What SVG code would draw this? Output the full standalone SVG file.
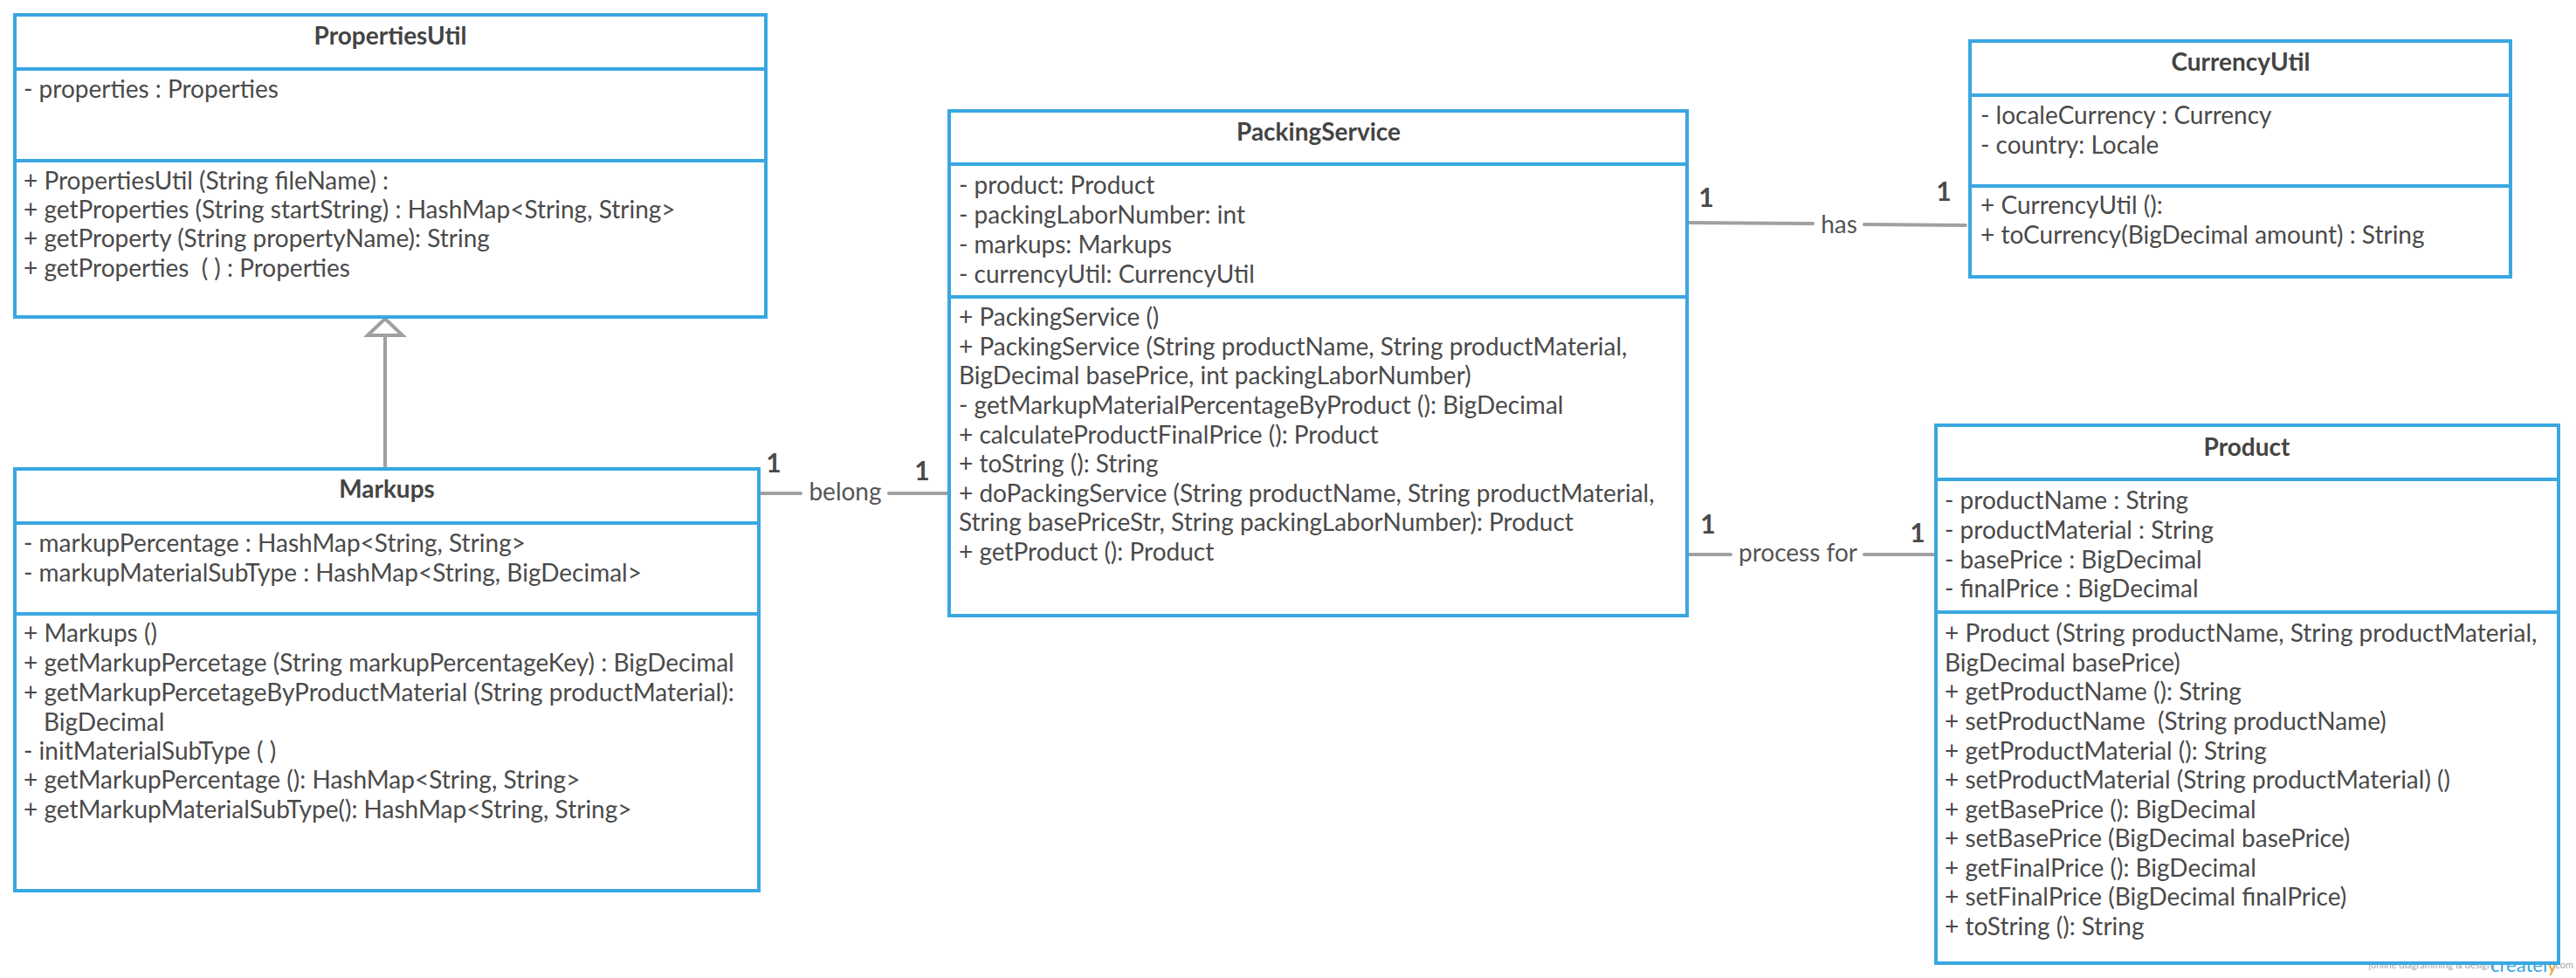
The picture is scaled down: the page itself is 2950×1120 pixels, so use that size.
<svg xmlns="http://www.w3.org/2000/svg" width="2950" height="1120" viewBox="0 0 2950 1120">
<style>
.box{fill:#ffffff;stroke:#39a7e1;stroke-width:4}
.div{stroke:#39a7e1;stroke-width:4}
.title{font-family:Lato,"Liberation Sans",sans-serif;font-size:28px;font-weight:bold;fill:#444444;text-anchor:middle}
.t{font-family:Lato,"Liberation Sans",sans-serif;font-size:28px;fill:#4a4a4a}
.con{stroke:#a0a0a0;stroke-width:4;fill:none;stroke-linecap:round}
.lbl{font-family:Lato,"Liberation Sans",sans-serif;font-size:28px;fill:#555555;text-anchor:middle}
.mul{font-family:Lato,"Liberation Sans",sans-serif;font-size:30px;font-weight:bold;fill:#4a4a4a;text-anchor:middle}
.wm{font-family:Lato,"Liberation Sans",sans-serif;font-size:11px;fill:#a8a8a8}
</style>
<rect width="2950" height="1120" fill="#ffffff"/>
<g id="watermark">
<text class="wm" x="2712" y="1109">[online diagramming &amp; design]</text>
<text x="2852" y="1113" style="font-family:Lato,'Liberation Sans',sans-serif;font-size:22px;fill:#39a7e1">createl<tspan fill="#f0a030">y</tspan></text>
<text class="wm" x="2924" y="1109">.com</text>
</g>
<g id="connectors">
<line class="con" x1="441" y1="384" x2="441" y2="537"/>
<polygon points="441,365 421,384 461,384" fill="#ffffff" stroke="#a0a0a0" stroke-width="4" stroke-linejoin="miter"/>
<line class="con" x1="864" y1="565" x2="917" y2="565"/>
<line class="con" x1="1018" y1="565" x2="1087" y2="565"/>
<text class="lbl" x="968" y="573">belong</text>
<text class="mul" x="886" y="541">1</text>
<text class="mul" x="1056" y="550">1</text>
<line class="con" x1="1933" y1="255" x2="2076" y2="256"/>
<line class="con" x1="2135" y1="257" x2="2251" y2="258"/>
<text class="lbl" x="2106" y="267">has</text>
<text class="mul" x="1954" y="237">1</text>
<text class="mul" x="2226" y="230">1</text>
<line class="con" x1="1933" y1="635" x2="1982" y2="635"/>
<line class="con" x1="2135" y1="635" x2="2216" y2="635"/>
<text class="lbl" x="2059" y="643">process for</text>
<text class="mul" x="1956" y="611">1</text>
<text class="mul" x="2196" y="621">1</text>
</g>
<g id="PropertiesUtil">
<rect class="box" x="17" y="17" width="860" height="346"/>
<line class="div" x1="17" y1="79" x2="877" y2="79"/>
<line class="div" x1="17" y1="184" x2="877" y2="184"/>
<text class="title" x="447" y="51">PropertiesUtil</text>
<text class="t" x="27" y="112">- properties : Properties</text>
<text class="t" x="27" y="217">+ PropertiesUtil (String fileName) :</text>
<text class="t" x="27" y="250">+ getProperties (String startString) : HashMap&lt;String, String&gt;</text>
<text class="t" x="27" y="283">+ getProperty (String propertyName): String</text>
<text class="t" x="27" y="317" xml:space="preserve">+ getProperties  ( ) : Properties</text>
</g>
<g id="Markups">
<rect class="box" x="17" y="537" width="852" height="483"/>
<line class="div" x1="17" y1="599" x2="869" y2="599"/>
<line class="div" x1="17" y1="703" x2="869" y2="703"/>
<text class="title" x="443" y="570">Markups</text>
<text class="t" x="27" y="632">- markupPercentage : HashMap&lt;String, String&gt;</text>
<text class="t" x="27" y="666">- markupMaterialSubType : HashMap&lt;String, BigDecimal&gt;</text>
<text class="t" x="27" y="735">+ Markups ()</text>
<text class="t" x="27" y="769">+ getMarkupPercetage (String markupPercentageKey) : BigDecimal</text>
<text class="t" x="27" y="803">+ getMarkupPercetageByProductMaterial (String productMaterial):</text>
<text class="t" x="50" y="837">BigDecimal</text>
<text class="t" x="27" y="870">- initMaterialSubType ( )</text>
<text class="t" x="27" y="903">+ getMarkupPercentage (): HashMap&lt;String, String&gt;</text>
<text class="t" x="27" y="937">+ getMarkupMaterialSubType(): HashMap&lt;String, String&gt;</text>
</g>
<g id="PackingService">
<rect class="box" x="1087" y="127" width="845" height="578"/>
<line class="div" x1="1087" y1="188" x2="1932" y2="188"/>
<line class="div" x1="1087" y1="340" x2="1932" y2="340"/>
<text class="title" x="1510" y="161">PackingService</text>
<text class="t" x="1098" y="222">- product: Product</text>
<text class="t" x="1098" y="256">- packingLaborNumber: int</text>
<text class="t" x="1098" y="290">- markups: Markups</text>
<text class="t" x="1098" y="324">- currencyUtil: CurrencyUtil</text>
<text class="t" x="1098" y="373">+ PackingService ()</text>
<text class="t" x="1098" y="407">+ PackingService (String productName, String productMaterial,</text>
<text class="t" x="1098" y="440">BigDecimal basePrice, int packingLaborNumber)</text>
<text class="t" x="1098" y="474">- getMarkupMaterialPercentageByProduct (): BigDecimal</text>
<text class="t" x="1098" y="508">+ calculateProductFinalPrice (): Product</text>
<text class="t" x="1098" y="541">+ toString (): String</text>
<text class="t" x="1098" y="575">+ doPackingService (String productName, String productMaterial,</text>
<text class="t" x="1098" y="608">String basePriceStr, String packingLaborNumber): Product</text>
<text class="t" x="1098" y="642">+ getProduct (): Product</text>
</g>
<g id="CurrencyUtil">
<rect class="box" x="2256" y="47" width="619" height="270"/>
<line class="div" x1="2256" y1="109" x2="2875" y2="109"/>
<line class="div" x1="2256" y1="213" x2="2875" y2="213"/>
<text class="title" x="2566" y="81">CurrencyUtil</text>
<text class="t" x="2268" y="142">- localeCurrency : Currency</text>
<text class="t" x="2268" y="176">- country: Locale</text>
<text class="t" x="2268" y="245">+ CurrencyUtil ():</text>
<text class="t" x="2268" y="279">+ toCurrency(BigDecimal amount) : String</text>
</g>
<g id="Product">
<rect class="box" x="2217" y="487" width="713" height="616"/>
<line class="div" x1="2217" y1="549" x2="2930" y2="549"/>
<line class="div" x1="2217" y1="701" x2="2930" y2="701"/>
<text class="title" x="2573" y="522">Product</text>
<text class="t" x="2227" y="583">- productName : String</text>
<text class="t" x="2227" y="617">- productMaterial : String</text>
<text class="t" x="2227" y="651">- basePrice : BigDecimal</text>
<text class="t" x="2227" y="684">- finalPrice : BigDecimal</text>
<text class="t" x="2227" y="735">+ Product (String productName, String productMaterial,</text>
<text class="t" x="2227" y="769">BigDecimal basePrice)</text>
<text class="t" x="2227" y="802">+ getProductName (): String</text>
<text class="t" x="2227" y="836" xml:space="preserve">+ setProductName  (String productName)</text>
<text class="t" x="2227" y="870">+ getProductMaterial (): String</text>
<text class="t" x="2227" y="903">+ setProductMaterial (String productMaterial) ()</text>
<text class="t" x="2227" y="937">+ getBasePrice (): BigDecimal</text>
<text class="t" x="2227" y="970">+ setBasePrice (BigDecimal basePrice)</text>
<text class="t" x="2227" y="1004">+ getFinalPrice (): BigDecimal</text>
<text class="t" x="2227" y="1037">+ setFinalPrice (BigDecimal finalPrice)</text>
<text class="t" x="2227" y="1071">+ toString (): String</text>
</g>
</svg>
